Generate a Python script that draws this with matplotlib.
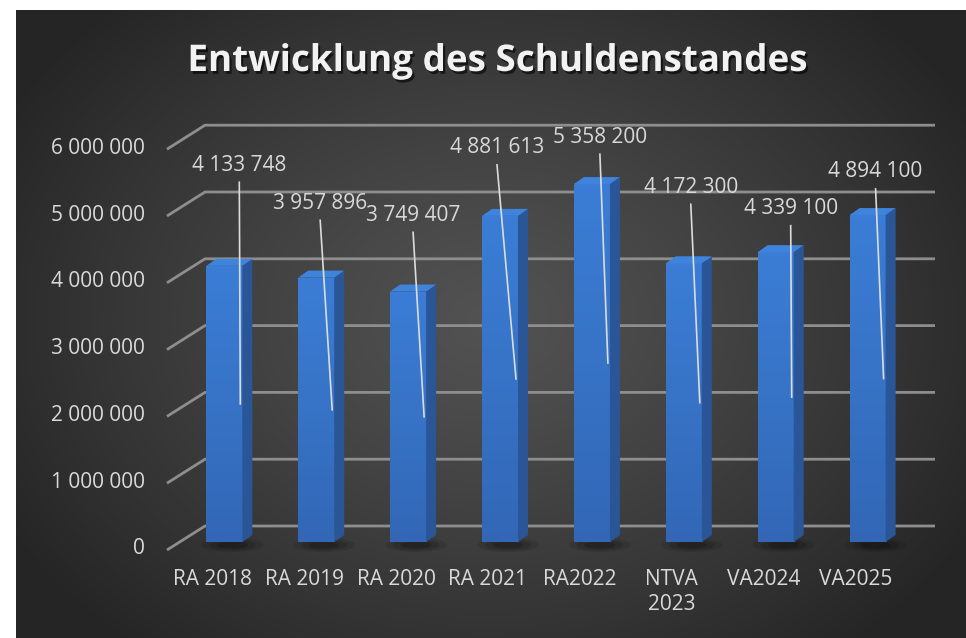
import numpy as np
import matplotlib
matplotlib.use("Agg")
import matplotlib.pyplot as plt
from matplotlib.patches import Polygon, Ellipse
import matplotlib.patheffects as pe

# ---------------- data ----------------
title = "Entwicklung des Schuldenstandes"
categories = ["RA 2018", "RA 2019", "RA 2020", "RA 2021", "RA2022", "NTVA\n2023", "VA2024", "VA2025"]
values = [4133748, 3957896, 3749407, 4881613, 5358200, 4172300, 4339100, 4894100]
value_labels = ["4 133 748", "3 957 896", "3 749 407", "4 881 613", "5 358 200",
                "4 172 300", "4 339 100", "4 894 100"]
ytick_values = [0, 1000000, 2000000, 3000000, 4000000, 5000000, 6000000]
ytick_labels = ["0", "1 000 000", "2 000 000", "3 000 000", "4 000 000", "5 000 000", "6 000 000"]

# ---------------- layout (label placement, not data) ----------------
label_y = [5.64e6, 5.07e6, 4.89e6, 5.90e6, 6.06e6, 5.31e6, 4.99e6, 5.54e6]
label_dx_px = [15, 4, 5, -3, 8, 7, 15, 8]

W, H = 966, 638
FONT = "Open Sans"
TXT = "#d9d9d9"
FS = 15

fig = plt.figure(figsize=(W / 100, H / 100), dpi=100)
fig.patch.set_facecolor("white")

# background (radial gradient) in dark frame
bg = fig.add_axes([16 / W, 0, (W - 16) / W, (H - 10) / H])
yy, xx = np.mgrid[10:H, 16:W]
r = np.sqrt(((xx - 490) / 560.0) ** 2 + ((yy - 320) / 430.0) ** 2)
r = np.clip(r, 0, 1) ** 1.2
c_in = np.array([0x52, 0x52, 0x52]) / 255
c_out = np.array([0x25, 0x25, 0x25]) / 255
img = c_in + (c_out - c_in) * r[..., None]
bg.imshow(img, extent=[0, 1, 0, 1], aspect="auto", origin="upper")
bg.axis("off")

# main axes: whole figure, categories on x, values on y
ax = fig.add_axes([0, 0, 1, 1])
ax.patch.set_alpha(0)
ax.axis("off")
CX0 = 224.3      # pixel of first category
PPC = 91.9       # pixels per category
BASE = 542       # pixel (from top) of value 0 at bar front
PPV = 66.8e-6    # pixels per value unit
ax.set_xlim(-CX0 / PPC, (W - CX0) / PPC)
ax.set_ylim(-(H - BASE) / PPV, BASE / PPV)

inv = ax.transData.inverted()
origin = ax.transData.transform((0, 0))


def off(px, py):
    p = inv.transform(origin + np.array([px, py], dtype=float))
    return p[0], p[1]


def xdata(px):
    return inv.transform((px, 0))[0]


x = np.arange(len(categories))

# gridlines with 3D floor perspective
xl = xdata(167)
xr = xdata(935)
fdx, fdy = off(0, -8)
bdx, bdy = off(38, 16)
for v in ytick_values:
    ax.plot([xl + fdx, xl + bdx, xr], [v + fdy, v + bdy, v + bdy],
            color="#8e8e8e", lw=2.0, zorder=1, solid_capstyle="butt")

# y tick labels
ytx = xdata(145)
_, lab_dy = off(0, -7)
for v, lab in zip(ytick_values, ytick_labels):
    ax.text(ytx, v + lab_dy, lab, ha="right", va="center", fontsize=FS,
            color=TXT, family=FONT)

# bars
hw = 0.196
ddx, ddy = off(10, 7)
bars = ax.bar(x, values, width=2 * hw, color="#3877cd", lw=0, zorder=3)
grad = np.linspace(0, 1, 64)[:, None]
cmap_front = matplotlib.colors.LinearSegmentedColormap.from_list(
    "f", ["#3367b6", "#3773c6", "#3b7dd6"])
for xi, v, b in zip(x, values, bars):
    # shadow
    for k, a in zip([1.0, 0.75, 0.5], [0.10, 0.14, 0.18]):
        sx, sy = off(62 * k, 14 * k)
        cx, cy = off(8, -3)
        ax.add_patch(Ellipse((xi + cx, cy), sx, sy, color="black", alpha=a, lw=0, zorder=2))
    # front gradient (darker at the bottom, lighter at the top)
    im = ax.imshow(grad, extent=[xi - hw, xi + hw, 0, v], aspect="auto",
                   cmap=cmap_front, zorder=3.1, origin="lower")
    im.set_clip_path(b)
    # side face
    side = Polygon([(xi + hw, 0), (xi + hw + ddx, ddy), (xi + hw + ddx, v + ddy), (xi + hw, v)],
                   closed=True, facecolor="#2a5697", lw=0, zorder=3.2)
    ax.add_patch(side)
    # top face
    top = Polygon([(xi - hw, v), (xi - hw + ddx, v + ddy), (xi + hw + ddx, v + ddy), (xi + hw, v)],
                  closed=True, facecolor="#3f84dc", lw=0, zorder=3.2)
    ax.add_patch(top)

ax.set_xlim(-CX0 / PPC, (W - CX0) / PPC)
ax.set_ylim(-(H - BASE) / PPV, BASE / PPV)

# data labels + leader lines
_, lead_dy = off(0, -17)
for xi, v, lab, ly, ldx in zip(x, values, value_labels, label_y, label_dx_px):
    lx, _ = off(ldx, 0)
    ex, _ = off(16, 0)
    ax.plot([xi + lx, xi + ex], [ly + lead_dy, v / 2], color="#dcdcdc", lw=1.2, zorder=5)
    ax.text(xi + lx, ly, lab, ha="center", va="center", fontsize=FS, color=TXT,
            family=FONT, zorder=6)

# category labels
cdx, cdy = off(-12, -27)
for xi, cat in zip(x, categories):
    ax.text(xi + cdx, cdy, cat, ha="center", va="top", fontsize=FS, color=TXT,
            family=FONT, linespacing=1.25, zorder=6)

# title
fig.text(497 / W, 1 - 71 / H, title, ha="center", va="baseline", fontsize=26.5,
         weight="bold", color="#f2f2f2", family=FONT,
         path_effects=[pe.withSimplePatchShadow(offset=(1.5, -2), shadow_rgbFace="black", alpha=0.6)])

fig.savefig("out.png", dpi=100)
